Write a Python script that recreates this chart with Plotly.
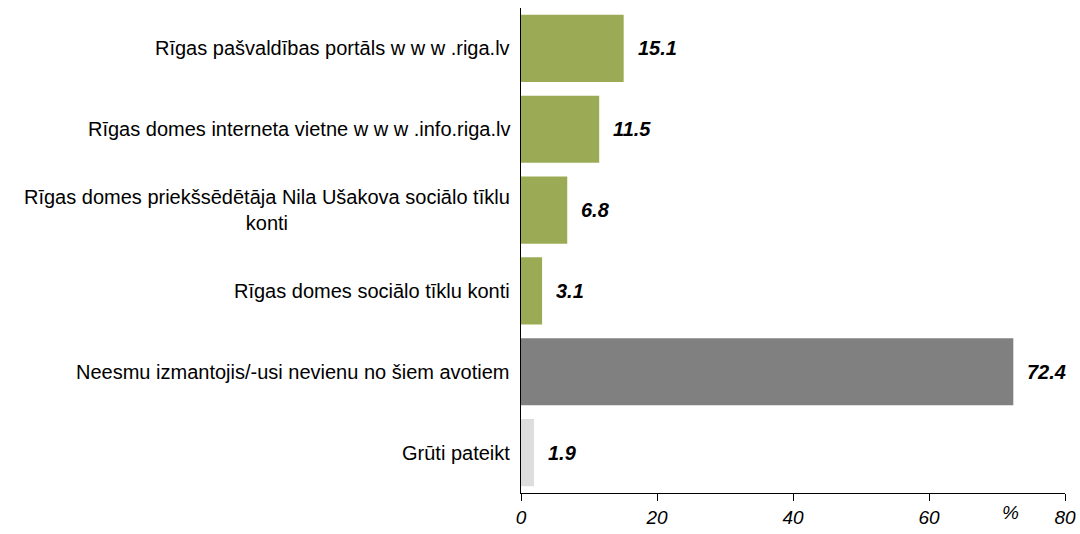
import plotly.graph_objects as go

categories = [
    "Rīgas pašvaldības portāls w w w .riga.lv",
    "Rīgas domes interneta vietne w w w .info.riga.lv",
    "Rīgas domes priekšsēdētāja Nila Ušakova sociālo tīklu<br>konti",
    "Rīgas domes sociālo tīklu konti",
    "Neesmu izmantojis/-usi nevienu no šiem avotiem",
    "Grūti pateikt",
]
values = [15.1, 11.5, 6.8, 3.1, 72.4, 1.9]
colors = ["#9BAB55", "#9BAB55", "#9BAB55", "#9BAB55", "#808080", "#DDDDDD"]
x_ticks = [0, 20, 40, 60, 80]

FONT = "Liberation Sans, Arial, sans-serif"

fig = go.Figure()
fig.add_trace(go.Bar(
    y=categories, x=values, orientation="h",
    marker=dict(color=colors, line=dict(width=0)),
    hoverinfo="skip",
))

for c, v in zip(categories, values):
    fig.add_annotation(x=v, y=c, xref="x", yref="y", text=f"<b><i>{v:.1f}</i></b>",
                       showarrow=False, xanchor="left", xshift=12,
                       font=dict(family=FONT, size=20, color="#000"))
    fig.add_annotation(x=0, y=c, xref="paper", yref="y", text=c,
                       showarrow=False, xanchor="right", xshift=-9, align="center",
                       font=dict(family=FONT, size=20, color="#000"))

fig.add_annotation(x=0.899, y=-0.04, xref="paper", yref="paper", text="%",
                   showarrow=False, xanchor="center", yanchor="middle",
                   font=dict(family=FONT, size=19, color="#000", style="italic"))

fig.update_layout(
    width=1080, height=534,
    margin=dict(l=521, r=15, t=8, b=41),
    paper_bgcolor="white", plot_bgcolor="white",
    bargap=0.17, showlegend=False,
    xaxis=dict(range=[0, 80], tickvals=x_ticks, ticks="outside", ticklen=7,
               tickcolor="#000", showline=True, linecolor="#000", linewidth=1,
               showgrid=False, zeroline=False, automargin=False,
               tickfont=dict(family=FONT, size=19, color="#000", style="italic")),
    yaxis=dict(autorange="reversed", showticklabels=False, showline=True,
               linecolor="#000", linewidth=1, showgrid=False, ticks="",
               automargin=False),
)

fig.write_html("out.html", config={"displayModeBar": False},
               post_script="document.body.style.margin='0';")
